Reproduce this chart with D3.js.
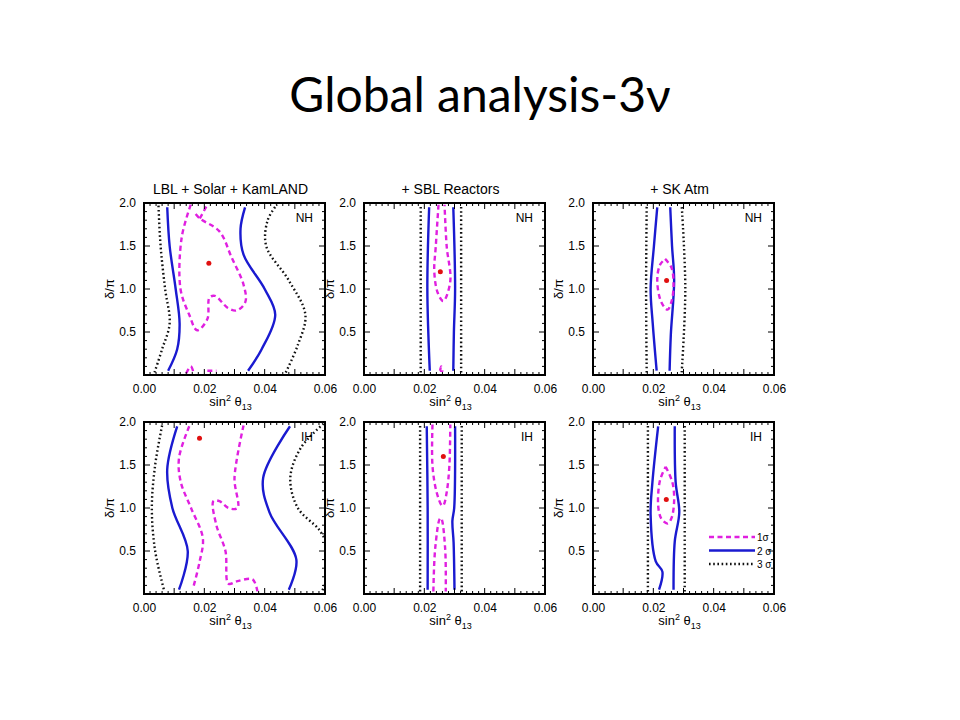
<!DOCTYPE html>
<html>
<head>
<meta charset="utf-8">
<script src="https://cdn.jsdelivr.net/npm/d3@7"></script>
<style>
  body { margin: 0; background: #fff; }
  text { font-family: "Liberation Sans", Arial, sans-serif; }
</style>
</head>
<body>
<svg width="960" height="720"></svg>
<script>
// contour points are [sin^2 theta13, delta/pi]
var titles = ['LBL + Solar + KamLAND', '+ SBL Reactors', '+ SK Atm']
var hierarchy = ['NH', 'IH']
var xTicks = [0, 0.02, 0.04, 0.06]
var yTicks = [0.5, 1.0, 1.5, 2.0]

// panel 1, NH
var p1nh_3s = [[[0.0035, 0.03], [0.006, 0.3], [0.0085, 0.6], [0.007, 1.0], [0.0055, 1.5], [0.0048, 1.97]],
               [[0.047, 0.03], [0.051, 0.35], [0.0535, 0.7], [0.048, 1.1], [0.0405, 1.5], [0.041, 1.8], [0.044, 1.98]]]
var p1nh_2s = [[[0.008, 0.05], [0.011, 0.3], [0.0118, 0.6], [0.0105, 1.0], [0.0085, 1.5], [0.0077, 1.95]],
               [[0.0345, 0.05], [0.039, 0.3], [0.0435, 0.7], [0.040, 1.0], [0.033, 1.4], [0.032, 1.7], [0.0335, 1.95]]]
var p1nh_1s = [[[0.0155, 1.98], [0.0125, 1.6], [0.0121, 1.0], [0.015, 0.7], [0.0176, 0.52], [0.021, 0.65], [0.0217, 0.9],
                [0.0235, 0.92], [0.0278, 0.78], [0.0307, 0.75], [0.0336, 0.85], [0.033, 1.05], [0.029, 1.37],
                [0.025, 1.67], [0.0185, 1.82], [0.0165, 1.9]],
               [[0.0185, 1.82], [0.021, 1.98]],
               [[0.014, 0.02], [0.0155, 0.1], [0.0165, 0.02]],
               [[0.021, 0.05], [0.024, 0.05]]]
var p1nh_best = [0.0215, 1.30]

// panel 1, IH
var p1ih_3s = [[[0.006, 1.96], [0.0037, 1.5], [0.0026, 1.0], [0.0037, 0.5], [0.0066, 0.05]],
               [[0.0595, 1.98], [0.052, 1.7], [0.0485, 1.35], [0.051, 1.0], [0.058, 0.75], [0.0605, 0.6]],
               [[0.0605, 0.15], [0.059, 0.03]]]
var p1ih_2s = [[[0.011, 1.95], [0.0077, 1.45], [0.0094, 1.0], [0.0145, 0.5], [0.0116, 0.05]],
               [[0.0484, 1.95], [0.0395, 1.35], [0.0416, 0.95], [0.0505, 0.4], [0.048, 0.05]]]
var p1ih_1s = [[[0.015, 1.95], [0.0116, 1.58], [0.0122, 1.3], [0.0156, 1.0], [0.0195, 0.65], [0.0184, 0.37], [0.0162, 0.06]],
               [[0.033, 1.96], [0.030, 1.35], [0.031, 1.0], [0.028, 1.0], [0.025, 1.08], [0.023, 1.08], [0.024, 0.8],
                [0.027, 0.5], [0.028, 0.12], [0.031, 0.15], [0.036, 0.17], [0.0376, 0.03]]]
var p1ih_best = [0.0184, 1.81]

// panel 2, NH
var p2nh_3s = [[[0.0188, 0.03], [0.0188, 1.0], [0.0188, 1.97]], [[0.0322, 0.03], [0.0322, 1.0], [0.0322, 1.97]]]
var p2nh_2s = [[[0.0218, 0.05], [0.021, 1.0], [0.0216, 1.95]], [[0.0296, 0.05], [0.0298, 0.5], [0.0302, 1.0], [0.0296, 1.95]]]
var p2nh_1s = [[[0.0247, 1.98], [0.0238, 1.5], [0.0233, 1.2], [0.0245, 0.95], [0.0263, 0.86], [0.0286, 1.09],
                [0.0274, 1.5], [0.0267, 1.98]],
               [[0.0252, 0.05], [0.0256, 0.1], [0.026, 0.05], [0.0252, 0.05]]]
var p2nh_best = [0.0253, 1.2]

// panel 2, IH
var p2ih_3s = [[[0.0186, 0.03], [0.0186, 1.97]], [[0.0324, 0.03], [0.0324, 1.97]]]
var p2ih_2s = [[[0.0211, 0.05], [0.0211, 1.0], [0.0208, 1.95]],
               [[0.030, 0.05], [0.0297, 0.6], [0.0293, 0.85], [0.0299, 1.0], [0.0302, 1.95]]]
var p2ih_1s = [[[0.0227, 1.97], [0.0227, 1.49], [0.0241, 1.18], [0.0258, 1.03], [0.0263, 1.03], [0.0274, 1.18],
                [0.0283, 1.49], [0.0286, 1.97]],
               [[0.023, 0.03], [0.0236, 0.53], [0.0252, 0.88], [0.0256, 0.88], [0.0269, 0.53], [0.0271, 0.03]]]
var p2ih_best = [0.0263, 1.6]

// panel 3, NH
var p3nh_3s = [[[0.0178, 0.03], [0.0176, 1.0], [0.0178, 1.97]], [[0.0294, 0.03], [0.0306, 1.0], [0.0294, 1.97]]]
var p3nh_2s = [[[0.0211, 0.05], [0.0198, 0.6], [0.0191, 1.0], [0.0202, 1.5], [0.0213, 1.95]],
               [[0.0254, 0.05], [0.0258, 0.47], [0.0269, 1.1], [0.0262, 1.5], [0.0256, 1.95]]]
var p3nh_1s = [[[0.0239, 1.35], [0.026, 1.25], [0.0267, 1.05], [0.026, 0.85], [0.0247, 0.76], [0.0226, 0.85],
                [0.0213, 1.1], [0.0222, 1.28], [0.0239, 1.35]]]
var p3nh_best = [0.0244, 1.1]

// panel 3, IH
var p3ih_3s = [[[0.0182, 0.03], [0.0182, 1.0], [0.0182, 1.97]], [[0.0304, 0.03], [0.0304, 1.0], [0.0304, 1.97]]]
var p3ih_2s = [[[0.0219, 0.05], [0.023, 0.26], [0.0208, 0.38], [0.0191, 0.92], [0.0197, 1.3], [0.0216, 1.95]],
               [[0.0267, 0.05], [0.0271, 0.61], [0.0286, 0.95], [0.0274, 1.3], [0.0271, 1.95]]]
var p3ih_1s = [[[0.0241, 1.48], [0.0263, 1.3], [0.0269, 1.09], [0.026, 0.88], [0.0247, 0.82], [0.0226, 0.88],
                [0.0216, 1.03], [0.0222, 1.32], [0.0241, 1.48]]]
var p3ih_best = [0.0243, 1.1]

var legendLabels = ['1σ', '2 σ', '3 σ']

var panels = [
  { col: 0, row: 0, s1: p1nh_1s, s2: p1nh_2s, s3: p1nh_3s, best: p1nh_best },
  { col: 1, row: 0, s1: p2nh_1s, s2: p2nh_2s, s3: p2nh_3s, best: p2nh_best },
  { col: 2, row: 0, s1: p3nh_1s, s2: p3nh_2s, s3: p3nh_3s, best: p3nh_best },
  { col: 0, row: 1, s1: p1ih_1s, s2: p1ih_2s, s3: p1ih_3s, best: p1ih_best },
  { col: 1, row: 1, s1: p2ih_1s, s2: p2ih_2s, s3: p2ih_3s, best: p2ih_best },
  { col: 2, row: 1, s1: p3ih_1s, s2: p3ih_2s, s3: p3ih_3s, best: p3ih_best }
]

var styles = {
  s1: { color: '#e020e0', dash: '5,3.5' },
  s2: { color: '#1a1ad0', dash: null },
  s3: { color: '#111', dash: '1.6,2.6' }
}

var svg = d3.select('svg')

svg.append('text')
    .attr('x', 480).attr('y', 112)
    .attr('text-anchor', 'middle')
    .style('font-family', 'Lato, "Open Sans", sans-serif')
    .style('font-size', '48px')
    .text('Global analysis-3ν')

var lefts = [144, 364, 593]
var tops = [203, 422]
var w = 181, h = 172

var x = d3.scaleLinear().domain([0, 0.06]).range([0, w])
var y = d3.scaleLinear().domain([0, 2]).range([h, 0])
var line = d3.line().x(function (d) { return x(d[0]) }).y(function (d) { return y(d[1]) })
    .curve(d3.curveCatmullRom.alpha(0.5))

titles.forEach(function (t, i) {
  svg.append('text')
      .attr('x', lefts[i] + w / 2 - 4).attr('y', 194)
      .attr('text-anchor', 'middle')
      .style('font-size', '14px')
      .text(t)
})

panels.forEach(function (p) {
  var g = svg.append('g')
      .attr('transform', 'translate(' + lefts[p.col] + ',' + tops[p.row] + ')')

  g.append('defs').append('clipPath').attr('id', 'clip' + p.col + p.row)
      .append('rect').attr('width', w).attr('height', h)

  var plot = g.append('g').attr('clip-path', 'url(#clip' + p.col + p.row + ')')
  ;['s3', 's2', 's1'].forEach(function (k) {
    plot.selectAll('path.' + k)
        .data(p[k])
        .enter()
        .append('path')
        .attr('class', k)
        .attr('d', line)
        .attr('fill', 'none')
        .attr('stroke', styles[k].color)
        .attr('stroke-width', 2.4)
        .attr('stroke-dasharray', styles[k].dash)
  })

  g.append('circle')
      .attr('cx', x(p.best[0])).attr('cy', y(p.best[1]))
      .attr('r', 2.5).attr('fill', '#e01010')

  // minor + major ticks, inward on all sides
  var xMinor = d3.range(0.002, 0.06, 0.002)
  var yMinor = d3.range(0.1, 2.0, 0.1)
  function tickLen (v, step) { return Math.abs(Math.round(v / step) - v / step) < 1e-6 ? 6 : 3 }
  xMinor.forEach(function (v) {
    var L = tickLen(v, 0.01)
    g.append('line').attr('x1', x(v)).attr('x2', x(v)).attr('y1', h).attr('y2', h - L).attr('stroke', '#000')
    g.append('line').attr('x1', x(v)).attr('x2', x(v)).attr('y1', 0).attr('y2', L).attr('stroke', '#000')
  })
  yMinor.forEach(function (v) {
    var L = tickLen(v, 0.5)
    g.append('line').attr('y1', y(v)).attr('y2', y(v)).attr('x1', 0).attr('x2', L).attr('stroke', '#000')
    g.append('line').attr('y1', y(v)).attr('y2', y(v)).attr('x1', w).attr('x2', w - L).attr('stroke', '#000')
  })

  g.append('rect').attr('width', w).attr('height', h)
      .attr('fill', 'none').attr('stroke', '#000').attr('stroke-width', 2)

  g.append('g').attr('transform', 'translate(0,' + h + ')')
      .call(d3.axisBottom(x).tickValues(xTicks).tickFormat(d3.format('.2f')).tickSize(0).tickPadding(9))
      .call(function (a) { a.select('.domain').remove() })
      .selectAll('text').style('font-size', '12px').style('font-family', '"Liberation Sans", Arial, sans-serif')

  g.append('g')
      .call(d3.axisLeft(y).tickValues(yTicks).tickFormat(d3.format('.1f')).tickSize(0).tickPadding(8))
      .call(function (a) { a.select('.domain').remove() })
      .selectAll('text').style('font-size', '12px').style('font-family', '"Liberation Sans", Arial, sans-serif')

  var xl = g.append('text').attr('x', w / 2 - 4).attr('y', h + 31)
      .attr('text-anchor', 'middle').style('font-size', '13px')
  xl.append('tspan').text('sin')
  xl.append('tspan').attr('dy', -5).style('font-size', '9px').text('2')
  xl.append('tspan').attr('dy', 5).text(' θ')
  xl.append('tspan').attr('dy', 4).style('font-size', '9px').text('13')

  g.append('text')
      .attr('transform', 'translate(-30,' + (h / 2) + ') rotate(-90)')
      .attr('text-anchor', 'middle').style('font-size', '13px')
      .text('δ/π')

  g.append('text').attr('x', w - 12).attr('y', 19)
      .attr('text-anchor', 'end').style('font-size', '12px')
      .text(hierarchy[p.row])
})

// legend in the last panel
var lg = svg.append('g').attr('transform', 'translate(709,537)')
;['s1', 's2', 's3'].forEach(function (k, i) {
  lg.append('line').attr('x1', 0).attr('x2', 46).attr('y1', i * 13.5).attr('y2', i * 13.5)
      .attr('stroke', styles[k].color).attr('stroke-width', 2.4)
      .attr('stroke-dasharray', styles[k].dash)
  lg.append('text').attr('x', 48).attr('y', i * 13.5 + 4)
      .style('font-size', '10px').text(legendLabels[i])
})
</script>
</body>
</html>
